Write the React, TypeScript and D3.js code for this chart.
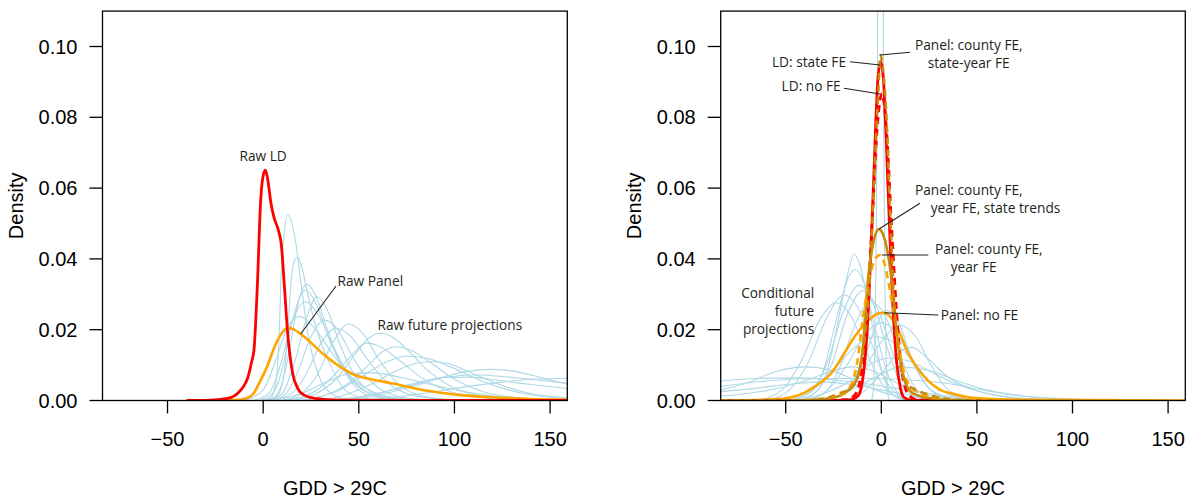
import React from "react";
import * as d3 from "d3";

type Pt = [number, number];

// ---------- axis data ----------
const xDomain: [number, number] = [-84, 159];
const yDomain: [number, number] = [0, 0.11];
const xTicks = [-50, 0, 50, 100, 150];
const xTickLabels = ["\u221250", "0", "50", "100", "150"];
const yTicks = [0, 0.02, 0.04, 0.06, 0.08, 0.1];
const yTickLabels = ["0.00", "0.02", "0.04", "0.06", "0.08", "0.10"];
const xAxisTitle = "GDD > 29C";
const yAxisTitle = "Density";

// ---------- left panel: raw distributions ----------
const rawLD: Pt[] = [[-40,0],[-25,0.0002],[-17,0.0008],[-13,0.0022],[-10,0.0042],[-8,0.0065],[-6,0.011],[-4.8,0.0143],[-3,0.033],[-1.3,0.0566],[0.2,0.064],[1.2,0.0651],[2.5,0.062],[4,0.056],[5.5,0.052],[8,0.048],[9.5,0.044],[11,0.033],[12.8,0.019],[15.4,0.0077],[18,0.0035],[20,0.002],[27,0.0006],[40,0.0001],[80,0],[159,0]];
const rawPanel: Pt[] = [[-40,0],[-15,0.0001],[-8,0.0008],[-5,0.002],[-2,0.005],[2,0.0095],[6.6,0.016],[11,0.0199],[12.8,0.0206],[16,0.0201],[21.5,0.018],[30,0.0138],[39,0.010],[48,0.0072],[58,0.0058],[67,0.0049],[85,0.0028],[102,0.0016],[120,0.0009],[140,0.0004],[159,0.0002]];
const rawFuture: Pt[][] = [
  [[0,0],[4,0.0008],[6.6,0.0049],[8.4,0.019],[9.2,0.033],[11,0.047],[12.6,0.0526],[14.5,0.051],[16.3,0.047],[19.8,0.033],[23.3,0.019],[28.6,0.0077],[35.6,0.002],[45,0.0003],[60,0]],
  [[2,0],[7,0.001],[11,0.0077],[12.8,0.019],[14.5,0.033],[16,0.039],[18,0.0404],[20,0.038],[23.3,0.030],[28.6,0.019],[35.6,0.0095],[42,0.0035],[50,0.001],[65,0]],
  [[0,0],[6,0.001],[10,0.005],[14,0.015],[18,0.027],[23,0.0328],[28,0.029],[33,0.021],[40,0.011],[48,0.004],[58,0.001],[75,0]],
  [[-2,0],[5,0.002],[10,0.009],[15,0.022],[22,0.0312],[28,0.027],[34,0.018],[42,0.009],[52,0.003],[65,0.0006],[80,0]],
  [[3,0],[10,0.002],[16,0.01],[22,0.022],[28,0.0293],[34,0.025],[40,0.016],[48,0.007],[58,0.002],[72,0.0003],[85,0]],
  [[-5,0],[3,0.002],[9,0.01],[15,0.022],[22,0.0279],[29,0.024],[36,0.016],[44,0.008],[54,0.0025],[68,0.0005],[85,0]],
  [[-10,0],[0,0.003],[7,0.012],[13,0.021],[19,0.0237],[26,0.021],[34,0.015],[42,0.009],[52,0.004],[65,0.0012],[85,0]],
  [[5,0],[12,0.002],[18,0.008],[25,0.018],[32,0.0227],[39,0.02],[46,0.013],[55,0.006],[66,0.002],[80,0.0004],[100,0]],
  [[10,0],[20,0.002],[28,0.007],[36,0.016],[44.7,0.0216],[52,0.019],[60,0.012],[70,0.005],[82,0.0015],[100,0.0002],[120,0]],
  [[5,0],[15,0.002],[22,0.007],[30,0.016],[38,0.0204],[46,0.018],[54,0.012],[64,0.0055],[76,0.0018],[95,0.0003],[110,0]],
  [[15,0],[28,0.002],[38,0.006],[48,0.013],[55,0.0175],[61,0.019],[68,0.0178],[76,0.014],[86,0.0085],[98,0.004],[112,0.0014],[130,0.0003],[150,0]],
  [[20,0],[35,0.002],[45,0.005],[55,0.01],[63,0.014],[70,0.0152],[78,0.014],[88,0.0105],[100,0.006],[115,0.0025],[135,0.0007],[159,0.0001]],
  [[10,0],[25,0.002],[35,0.006],[45,0.012],[54,0.0162],[62,0.015],[72,0.011],[84,0.006],[98,0.0025],[115,0.0008],[140,0.0001],[159,0]],
  [[30,0],[45,0.002],[58,0.005],[70,0.0085],[80,0.0105],[88,0.011],[96,0.0105],[108,0.008],[122,0.0048],[138,0.0022],[159,0.0007]],
  [[40,0],[60,0.0015],[78,0.004],[95,0.0068],[108,0.0083],[118,0.0088],[128,0.0085],[140,0.0072],[150,0.0058],[159,0.0046]],
  [[50,0],[70,0.001],[90,0.0025],[110,0.0042],[125,0.0052],[140,0.006],[159,0.0063]],
  [[35,0],[55,0.0015],[75,0.004],[95,0.0065],[110,0.0072],[125,0.0068],[140,0.006],[159,0.0049]],
  [[40,0],[60,0.002],[80,0.005],[95,0.0065],[108,0.0066],[122,0.0058],[140,0.0045],[159,0.0034]],
  [[20,0],[40,0.003],[55,0.008],[65,0.011],[75,0.0125],[85,0.012],[98,0.0095],[112,0.006],[128,0.003],[145,0.0012],[159,0.0005]],
  [[5,0],[20,0.002],[32,0.005],[45,0.0075],[58,0.0078],[72,0.0065],[88,0.0045],[105,0.0025],[125,0.001],[150,0.0002],[159,0.0001]],
];

// ---------- right panel: residual distributions ----------
const ldStateFE: Pt[] = [[-84,0],[-25,0],[-16,0.0002],[-12,0.0014],[-10,0.005],[-8,0.015],[-6.5,0.029],[-4.3,0.058],[-1.7,0.0914],[-0.3,0.0957],[1,0.0914],[3.6,0.059],[5.4,0.034],[8,0.011],[10,0.0035],[12,0.0008],[16,0.0001],[30,0]];
const ldNoFE: Pt[] = [[-84,0],[-28,0],[-18,0.0003],[-14,0.0015],[-11,0.006],[-8,0.021],[-5,0.048],[-2,0.078],[0.3,0.0867],[2.5,0.078],[5.5,0.048],[8.5,0.021],[11.5,0.006],[14.5,0.0015],[19,0.0002],[30,0]];
const panelNoFE: Pt[] = [[-84,0],[-62,0.0002],[-50,0.0006],[-45.5,0.0011],[-40,0.0022],[-35,0.0039],[-30,0.0058],[-26.2,0.0077],[-19.2,0.0135],[-14,0.018],[-7,0.0225],[-2,0.0245],[1,0.0248],[5,0.0235],[9.7,0.019],[14,0.0135],[18.5,0.0095],[24,0.0058],[30.8,0.003],[38,0.0018],[44.8,0.001],[60,0.0004],[80,0.0002],[110,0.0001],[159,0]];
const panelCountyYear: Pt[] = [[-84,0],[-45,0],[-30,0.0006],[-25.5,0.001],[-20,0.002],[-15.7,0.0045],[-12.4,0.0114],[-9.7,0.023],[-7,0.032],[-4,0.039],[-0.8,0.0411],[2,0.038],[4.5,0.031],[7.1,0.0227],[9.7,0.0134],[13.2,0.0058],[20,0.002],[27,0.001],[40,0.0002],[60,0]];
const panelCountyYearTrends: Pt[] = [[-84,0],[-45,0],[-30,0.0004],[-25.5,0.0007],[-18,0.0025],[-13,0.0058],[-9.6,0.0152],[-7,0.034],[-4,0.045],[-1.3,0.0484],[1.5,0.046],[5.4,0.034],[8,0.02],[10.6,0.0095],[13,0.0045],[16.6,0.002],[27,0.0005],[40,0.0001],[60,0]];
const panelCountyStateYear: Pt[] = [[-84,0],[-40,0],[-28,0.0008],[-22,0.002],[-16,0.0035],[-12,0.007],[-9,0.016],[-6,0.035],[-3.5,0.065],[-1.5,0.088],[-0.5,0.0976],[0.8,0.094],[2.7,0.08],[4.5,0.055],[7,0.025],[9.5,0.011],[13,0.005],[18,0.003],[24,0.0018],[32,0.0006],[45,0]];
const conditionalFuture: Pt[][] = [
  [[-45,0],[-35,0.002],[-28,0.009],[-22,0.024],[-17,0.037],[-14.3,0.0414],[-11,0.038],[-6,0.025],[-1,0.011],[4,0.003],[10,0.0005],[20,0]],
  [[-48,0],[-38,0.002],[-30,0.009],[-23,0.024],[-17,0.035],[-13.5,0.037],[-9,0.033],[-3,0.02],[3,0.008],[9,0.002],[18,0]],
  [[-48,0],[-36,0.003],[-28,0.011],[-20,0.025],[-11.5,0.0326],[-4,0.027],[3,0.015],[10,0.005],[18,0.001],[28,0]],
  [[-45,0],[-35,0.002],[-26,0.01],[-18,0.024],[-9.7,0.031],[-2,0.026],[5,0.015],[12,0.005],[20,0.001],[30,0]],
  [[-60,0],[-48,0.003],[-38,0.011],[-28,0.024],[-19.5,0.0298],[-12,0.026],[-5,0.016],[2,0.006],[9,0.0015],[18,0]],
  [[-65,0],[-52,0.003],[-42,0.011],[-32,0.023],[-23.5,0.0276],[-16,0.024],[-8,0.014],[0,0.005],[8,0.001],[16,0]],
  [[-40,0],[-30,0.002],[-22,0.009],[-14,0.021],[-5.7,0.0279],[2,0.024],[9,0.014],[16,0.005],[24,0.001],[35,0]],
  [[-30,0],[-18,0.003],[-8,0.01],[2,0.018],[10,0.0213],[18,0.018],[26,0.01],[34,0.0035],[44,0.0008],[55,0]],
  [[-40,0],[-28,0.003],[-18,0.01],[-8,0.019],[0,0.022],[8,0.019],[16,0.011],[24,0.004],[34,0.001],[45,0]],
  [[-28,0],[-18,0.003],[-9,0.012],[-2,0.022],[3,0.0255],[9,0.022],[16,0.012],[24,0.004],[32,0.001],[42,0]],
  [[-50,0],[-38,0.002],[-26,0.008],[-14,0.015],[-3,0.018],[8,0.016],[18,0.01],[28,0.004],[38,0.0012],[50,0]],
  [[-84,0.003],[-70,0.005],[-55,0.0082],[-40,0.0095],[-28,0.0088],[-15,0.006],[-3,0.003],[10,0.001],[25,0]],
  [[-84,0.004],[-60,0.0055],[-35,0.0062],[-10,0.0062],[15,0.0058],[35,0.0048],[55,0.0028],[75,0.0012],[100,0.0004],[130,0]],
  [[-84,0.0055],[-65,0.0062],[-45,0.0064],[-25,0.0058],[-5,0.0045],[15,0.0028],[35,0.0012],[60,0.0003],[80,0]],
  [[-45,0],[-30,0.002],[-15,0.006],[-5,0.0105],[5,0.012],[15,0.011],[28,0.0075],[40,0.0045],[55,0.002],[75,0.0005],[100,0]],
  [[-5,0],[-4,0.005],[-3,0.03],[-2,0.09],[-1.7,0.2],[-0.45,0.5],[0.8,0.2],[1.1,0.09],[2,0.03],[3,0.005],[4,0]],
  [[-20,0],[-8,0.003],[2,0.009],[10,0.014],[16,0.015],[24,0.012],[34,0.007],[46,0.0035],[62,0.0013],[85,0.0003],[110,0]],
  [[-35,0],[-20,0.002],[-5,0.006],[10,0.0095],[25,0.0085],[40,0.0055],[55,0.003],[75,0.0012],[100,0.0004],[130,0.0001],[159,0]],
  [[-84,0.0025],[-65,0.0035],[-45,0.0048],[-30,0.0052],[-15,0.0045],[0,0.003],[20,0.0012],[45,0.0003],[70,0]],
  [[-84,0.0012],[-60,0.0028],[-40,0.0055],[-25,0.0085],[-15,0.0095],[-5,0.0085],[8,0.005],[22,0.002],[40,0.0005],[60,0]],
];

// ---------- styles ----------
const BLUE = "#ADD8E6";
const RED = "#FF0000";
const ORANGE = "#FFA500";
const DARKGOLD = "#C88A0A";
const INK = "#231F20";
const AXIS_FONT = "'Liberation Sans', Arial, Helvetica, sans-serif";
const NOTE_FONT = "'Open Sans', 'Noto Sans', sans-serif";

type Series = { data: Pt[]; color: string; width: number; dash?: string };
type Note = { lines: string[]; x: number; y: number; anchor: "start" | "end" | "middle"; lineGap: number; dx?: number[] };
type Leader = [number, number, number, number];

function Panel(props: {
  id: string;
  left: number;
  right: number;
  top: number;
  bottom: number;
  series: Series[];
  notes: Note[];
  leaders: Leader[];
}) {
  const { id, left, right, top, bottom, series, notes, leaders } = props;
  const x = d3.scaleLinear().domain(xDomain).range([left, right]);
  const y = d3.scaleLinear().domain(yDomain).range([bottom, top]);
  const line = d3
    .line<Pt>()
    .x((d) => x(d[0]))
    .y((d) => y(d[1]))
    .curve(d3.curveMonotoneX);
  const tickLen = 13;
  return (
    <g>
      <defs>
        <clipPath id={id}>
          <rect x={left} y={top} width={right - left} height={bottom - top} />
        </clipPath>
      </defs>
      <g clipPath={`url(#${id})`}>
        {series.map((s, i) => (
          <path
            key={i}
            d={line(s.data) || ""}
            fill="none"
            stroke={s.color}
            strokeWidth={s.width}
            strokeDasharray={s.dash}
            strokeLinejoin="round"
          />
        ))}
      </g>
      <rect x={left} y={top} width={right - left} height={bottom - top} fill="none" stroke="#000" strokeWidth={1.3} />
      {yTicks.map((t, i) => (
        <g key={"y" + i}>
          <line x1={left - tickLen} x2={left} y1={y(t)} y2={y(t)} stroke="#000" strokeWidth={1.3} />
          <text x={left - tickLen - 12} y={y(t) + 7} textAnchor="end" fontFamily={AXIS_FONT} fontSize={20} fill="#000">
            {yTickLabels[i]}
          </text>
        </g>
      ))}
      {xTicks.map((t, i) => (
        <g key={"x" + i}>
          <line x1={x(t)} x2={x(t)} y1={bottom} y2={bottom + tickLen} stroke="#000" strokeWidth={1.3} />
          <text x={x(t)} y={bottom + 45} textAnchor="middle" fontFamily={AXIS_FONT} fontSize={20} fill="#000">
            {xTickLabels[i]}
          </text>
        </g>
      ))}
      <text x={(left + right) / 2} y={495} textAnchor="middle" fontFamily={AXIS_FONT} fontSize={20} fill="#000">
        {xAxisTitle}
      </text>
      <text
        transform={`translate(${left - 80},${(top + bottom) / 2}) rotate(-90)`}
        textAnchor="middle"
        fontFamily={AXIS_FONT}
        fontSize={20}
        fill="#000"
      >
        {yAxisTitle}
      </text>
      {leaders.map((l, i) => (
        <line key={"l" + i} x1={l[0]} y1={l[1]} x2={l[2]} y2={l[3]} stroke={INK} strokeWidth={1.1} />
      ))}
      {notes.map((n, i) => (
        <text key={"n" + i} fontFamily={NOTE_FONT} fontSize={13.7} fill={INK} textAnchor={n.anchor}>
          {n.lines.map((ln, j) => (
            <tspan key={j} x={n.x + (n.dx ? n.dx[j] : 0)} y={n.y + j * n.lineGap}>
              {ln}
            </tspan>
          ))}
        </text>
      ))}
    </g>
  );
}

export default function App() {
  const leftSeries: Series[] = [
    ...rawFuture.map((d) => ({ data: d, color: BLUE, width: 1.1 })),
    { data: rawPanel, color: ORANGE, width: 2.6 },
    { data: rawLD, color: RED, width: 2.8 },
  ];
  const rightSeries: Series[] = [
    ...conditionalFuture.map((d) => ({ data: d, color: BLUE, width: 1.1 })),
    { data: panelNoFE, color: ORANGE, width: 2.6 },
    { data: ldStateFE, color: RED, width: 2.8 },
    { data: ldNoFE, color: RED, width: 2.8, dash: "7,5" },
    { data: panelCountyYearTrends, color: DARKGOLD, width: 2.6 },
    { data: panelCountyYear, color: ORANGE, width: 2.6, dash: "7,5" },
    { data: panelCountyStateYear, color: DARKGOLD, width: 2.6, dash: "7,5" },
  ];
  const leftNotes: Note[] = [
    { lines: ["Raw LD"], x: 239.5, y: 160.7, anchor: "start", lineGap: 0 },
    { lines: ["Raw Panel"], x: 337.5, y: 286, anchor: "start", lineGap: 0 },
    { lines: ["Raw future projections"], x: 377.5, y: 330, anchor: "start", lineGap: 0 },
  ];
  const leftLeaders: Leader[] = [[336, 286, 300.7, 334]];
  const rightNotes: Note[] = [
    { lines: ["Panel: county FE,", "state-year FE"], x: 915, y: 50, anchor: "start", lineGap: 18.3, dx: [0, 12.7] },
    { lines: ["LD: state FE"], x: 846, y: 66.7, anchor: "end", lineGap: 0 },
    { lines: ["LD: no FE"], x: 840.7, y: 90.7, anchor: "end", lineGap: 0 },
    { lines: ["Panel: county FE,", "year FE, state trends"], x: 915, y: 195, anchor: "start", lineGap: 18.3, dx: [0, 15.7] },
    { lines: ["Panel: county FE,", "year FE"], x: 935, y: 254, anchor: "start", lineGap: 17.7, dx: [0, 15.7] },
    { lines: ["Panel: no FE"], x: 940.7, y: 320, anchor: "start", lineGap: 0 },
    { lines: ["Conditional", "future", "projections"], x: 814.3, y: 298.3, anchor: "end", lineGap: 17.6 },
  ];
  const rightLeaders: Leader[] = [
    [910, 52.3, 880, 55],
    [850, 61.7, 880, 65],
    [844, 88.3, 880, 94],
    [920, 203.3, 879, 229],
    [928.3, 255, 881.7, 255],
    [938.3, 315, 884.3, 312.7],
  ];
  return (
    <svg width={1188} height={498} style={{ position: "absolute", left: 0, top: 0, background: "#fff" }}>
      <rect x={0} y={0} width={1188} height={498} fill="#fff" />
      <Panel id="clipL" left={102.5} right={567.3} top={11.1} bottom={400.5} series={leftSeries} notes={leftNotes} leaders={leftLeaders} />
      <Panel id="clipR" left={720.7} right={1185.3} top={11.1} bottom={400.5} series={rightSeries} notes={rightNotes} leaders={rightLeaders} />
    </svg>
  );
}
